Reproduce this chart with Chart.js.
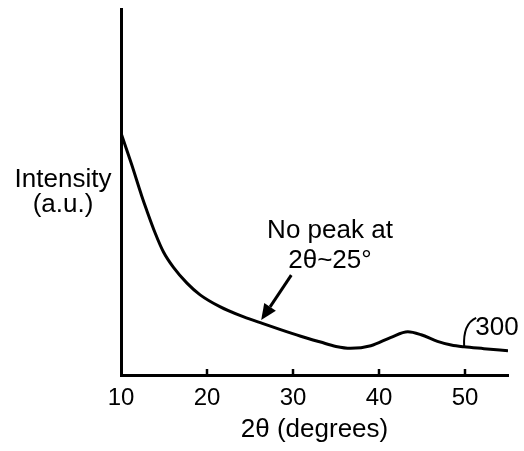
<!DOCTYPE html>
<html>
<head>
<meta charset="utf-8">
<style>
  html, body { margin: 0; padding: 0; background: #fff; }
  #wrap { width: 524px; height: 451px; }
</style>
<script src="https://cdn.jsdelivr.net/npm/chart.js@4/dist/chart.umd.min.js"></script>
</head>
<body>
<div id="wrap"><canvas id="c" width="524" height="451"></canvas></div>
<script>
// Data (2θ in degrees, intensity in arbitrary units)
const twoTheta = [10, 11.24, 12.4, 12.99, 13.97, 14.94, 16.1, 17.67, 19.2, 21.55, 23.9, 26.2, 28.55, 30.9, 33.2, 35, 36.7, 39.05, 41.4, 43.35, 44.9, 46.8, 48.4, 49.9, 52.2, 55];
const intensity = [66.1, 57.5, 49.0, 45.0, 38.8, 33.6, 29.4, 25.1, 21.9, 18.6, 16.2, 14.3, 12.4, 10.6, 9.0, 7.8, 7.3, 8.0, 10.3, 11.8, 11.0, 9.2, 8.2, 7.7, 7.2, 6.6];
const xTicks = [10, 20, 30, 40, 50];
const xTitle = '2\u03B8 (degrees)';
const yTitleLines = ['Intensity', '(a.u.)'];
const noteLines = ['No peak at', '2\u03B8~25\u00B0'];
const curveLabel = '300';

const FONT = '"Liberation Sans", Arial, Helvetica, sans-serif';

const annotations = {
  id: 'annotations',
  afterDraw(chart) {
    const { ctx, scales: { x, y }, chartArea } = chart;
    ctx.save();
    ctx.fillStyle = '#000';
    ctx.strokeStyle = '#000';
    // inward tick marks
    ctx.lineWidth = 2.5;
    xTicks.slice(1).forEach(v => {
      const px = x.getPixelForValue(v);
      ctx.beginPath();
      ctx.moveTo(px, chartArea.bottom);
      ctx.lineTo(px, chartArea.bottom - 6);
      ctx.stroke();
    });
    // y label
    ctx.font = '26px ' + FONT;
    ctx.textAlign = 'center';
    ctx.textBaseline = 'alphabetic';
    const ly = chartArea.left - 58;
    ctx.fillText(yTitleLines[0], ly, 187);
    ctx.fillText(yTitleLines[1], ly, 212);
    // note
    const nx = x.getPixelForValue(34.3);
    ctx.fillText(noteLines[0], nx, y.getPixelForValue(37.4));
    ctx.fillText(noteLines[1], nx, y.getPixelForValue(29.2));
    // arrow
    const ax0 = x.getPixelForValue(29.8), ay0 = y.getPixelForValue(27.3);
    const ax1 = x.getPixelForValue(26.3), ay1 = y.getPixelForValue(15.0);
    const ang = Math.atan2(ay1 - ay0, ax1 - ax0);
    const hl = 16, hw = 7;
    const bx = ax1 - hl * Math.cos(ang), by = ay1 - hl * Math.sin(ang);
    ctx.lineWidth = 3;
    ctx.beginPath();
    ctx.moveTo(ax0, ay0);
    ctx.lineTo(bx, by);
    ctx.stroke();
    ctx.beginPath();
    ctx.moveTo(ax1, ay1);
    ctx.lineTo(bx + hw * Math.sin(ang), by - hw * Math.cos(ang));
    ctx.lineTo(bx - hw * Math.sin(ang), by + hw * Math.cos(ang));
    ctx.closePath();
    ctx.fill();
    // curve label with leader
    ctx.textAlign = 'left';
    ctx.fillText(curveLabel, x.getPixelForValue(51.2), y.getPixelForValue(11.0));
    ctx.lineWidth = 2;
    ctx.beginPath();
    ctx.moveTo(x.getPixelForValue(49.9), y.getPixelForValue(7.7));
    ctx.quadraticCurveTo(x.getPixelForValue(49.75), y.getPixelForValue(14.0), x.getPixelForValue(51.3), y.getPixelForValue(15.6));
    ctx.stroke();
    ctx.restore();
  }
};

new Chart(document.getElementById('c'), {
  type: 'line',
  data: {
    datasets: [{
      data: twoTheta.map((t, i) => ({ x: t, y: intensity[i] })),
      borderColor: '#000',
      borderWidth: 3,
      pointRadius: 0,
      cubicInterpolationMode: 'monotone',
      fill: false
    }]
  },
  options: {
    responsive: false,
    animation: false,
    devicePixelRatio: 1,
    layout: { padding: { left: 0, right: 16, top: 9, bottom: 0 } },
    plugins: { legend: { display: false }, tooltip: { enabled: false } },
    scales: {
      x: {
        type: 'linear',
        min: 10, max: 55,
        afterBuildTicks: s => { s.ticks = xTicks.map(v => ({ value: v })); },
        afterFit: s => { s.height = 76; },
        grid: { display: false, drawTicks: false },
        border: { display: true, color: '#000', width: 3 },
        ticks: { color: '#000', padding: 9, font: { family: FONT, size: 24 }, maxRotation: 0 },
        title: { display: true, text: xTitle, color: '#000', font: { family: FONT, size: 26 }, padding: { top: 2, bottom: 6 } }
      },
      y: {
        min: 0, max: 100,
        afterFit: s => { s.width = 121; },
        grid: { display: false, drawTicks: false },
        border: { display: true, color: '#000', width: 3 },
        ticks: { display: false }
      }
    }
  },
  plugins: [annotations]
});
</script>
</body>
</html>
